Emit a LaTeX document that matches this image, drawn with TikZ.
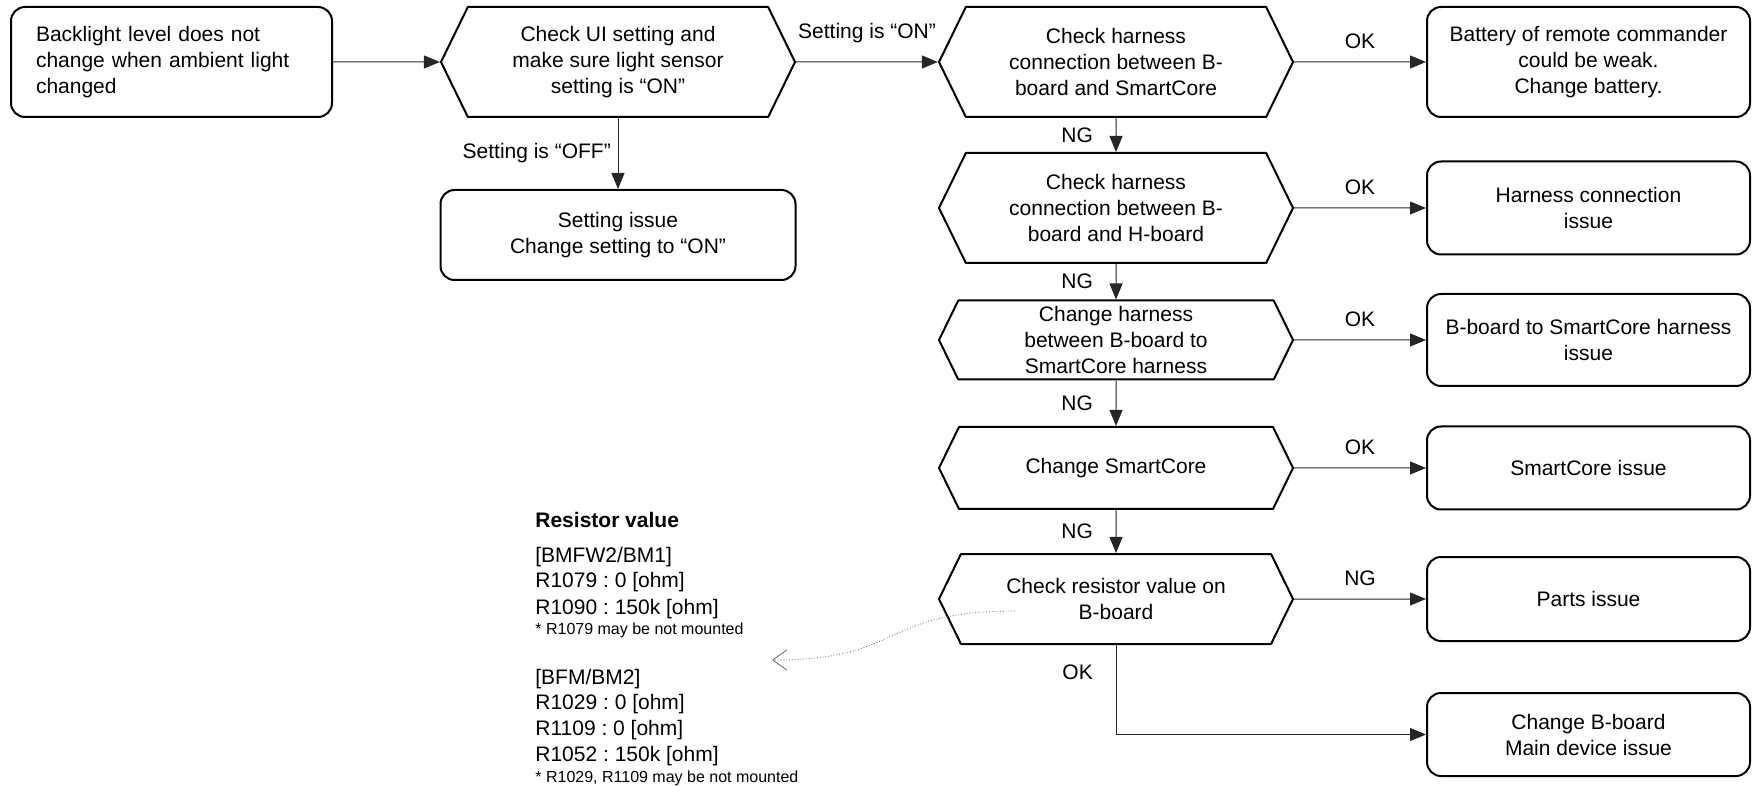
\documentclass[tikz,border=0pt]{standalone}
\usepackage{fontspec}
\setmainfont{Liberation Sans}
\usetikzlibrary{arrows.meta,shapes.symbols}
\frenchspacing

\begin{document}
\begin{tikzpicture}[x=0.5pt, y=-0.5pt, font=\fontsize{10.5}{13}\selectfont, line join=round,
    hexbox/.style={signal, signal to=west and east, signal pointer angle=128, draw, line width=1pt,
        align=center, inner sep=1pt, minimum width=177pt},
    endbox/.style={draw, line width=1pt, rounded corners=7pt, align=center, minimum width=161.5pt},
    flow/.style={draw=black!85, line width=0.5pt, -{Triangle[length=8pt, width=6.5pt]}}]
    \useasboundingbox (0,0) rectangle (1753,786);

    \node[endbox, align=left, minimum width=160.5pt, minimum height=55pt, text width=135.5pt,
        inner xsep=12.5pt] (start) at (171.5,62) {Backlight level does not\\change when ambient light\\changed};

    \node[hexbox, minimum height=55pt] (chkui) at (618,62) {Check UI setting and\\make sure light sensor\\setting is “ON”};
    \node[endbox, minimum width=177.5pt, minimum height=45pt] (setiss) at (618,235) {Setting issue\\Change setting to “ON”};

    \node[hexbox, minimum height=55pt] (chkbs) at (1116,62) {Check harness\\connection between B-\\board and SmartCore};
    \node[hexbox, minimum height=55pt] (chkbh) at (1116,208) {Check harness\\connection between B-\\board and H-board};
    \node[hexbox, minimum height=39.5pt] (chgharn) at (1116,340) {Change harness\\between B-board to\\SmartCore harness};
    \node[hexbox, minimum height=41pt] (chgsc) at (1116,468) {Change SmartCore};
    \node[hexbox, minimum height=45pt] (chkres) at (1116,599) {Check resistor value on\\B-board};

    \node[endbox, minimum height=55pt] (battery) at (1588.5,62) {Battery of remote commander\\could be weak.\\Change battery.};
    \node[endbox, minimum height=46.5pt] (harness) at (1588.5,208) {Harness connection\\issue};
    \node[endbox, minimum height=46pt] (bscharn) at (1588.5,340) {B-board to SmartCore harness\\issue};
    \node[endbox, minimum height=41.5pt] (scissue) at (1588.5,468) {SmartCore issue};
    \node[endbox, minimum height=42pt] (parts) at (1588.5,599) {Parts issue};
    \node[endbox, minimum height=41.5pt] (chgb) at (1588.5,734.5) {Change B-board\\Main device issue};

    % main flow
    \draw[flow] (start) -- (chkui);
    \draw[flow] (chkui) -- node[above=6pt] (lblon) {Setting is “ON”} (chkbs);
    \draw[flow] (chkui.south) -- node[left] (lbloff) {Setting is “OFF”} (setiss.north);

    \draw[flow] (chkbs) -- node[left=8pt] (ng1) {NG} (chkbh);
    \draw[flow] (chkbh) -- node[left=8pt] (ng2) {NG} (chgharn);
    \draw[flow] (chgharn) -- node[left=8pt] (ng3) {NG} (chgsc);
    \draw[flow] (chgsc) -- node[left=8pt] (ng4) {NG} (chkres);

    \draw[flow] (chkbs) -- node[above=3pt] (ok1) {OK} (battery);
    \draw[flow] (chkbh) -- node[above=3pt] (ok2) {OK} (harness);
    \draw[flow] (chgharn) -- node[above=3pt] (ok3) {OK} (bscharn);
    \draw[flow] (chgsc) -- node[above=3pt] (ok4) {OK} (scissue);
    \draw[flow] (chkres) -- node[above=3pt] (ng5) {NG} (parts);
    \draw[flow] (chkres.south) |- node[pos=0.15, left=8pt] (ok5) {OK} (chgb.west);

    % resistor note
    \node[anchor=base west, inner sep=0pt, font=\fontsize{10.5}{13}\selectfont\bfseries] (restitle) at (535,527) {Resistor value};
    \foreach \y/\txt [count=\i] in {562/{[BMFW2/BM1]}, 588/{R1079 : 0 [ohm]}, 614/{R1090 : 150k [ohm]},
        684/{[BFM/BM2]}, 709/{R1029 : 0 [ohm]}, 735/{R1109 : 0 [ohm]}, 761/{R1052 : 150k [ohm]}}
        \node[anchor=base west, inner sep=0pt] (resline\i) at (535,\y) {\txt};
    \node[anchor=base west, inner sep=0pt, font=\fontsize{8}{10}\selectfont] (resnotea) at (535,634) {* R1079 may be not mounted};
    \node[anchor=base west, inner sep=0pt, font=\fontsize{8}{10}\selectfont] (resnoteb) at (535,782) {* R1029, R1109 may be not mounted};

    \coordinate (notefrom) at (1015,611);
    \coordinate (noteto) at (772,660);
    \draw[densely dotted, black!60, line width=0.4pt, -{Straight Barb[length=7pt, width=10pt]}]
        (notefrom) .. controls (880,611) and (905,660) .. (noteto);
\end{tikzpicture}
\end{document}
